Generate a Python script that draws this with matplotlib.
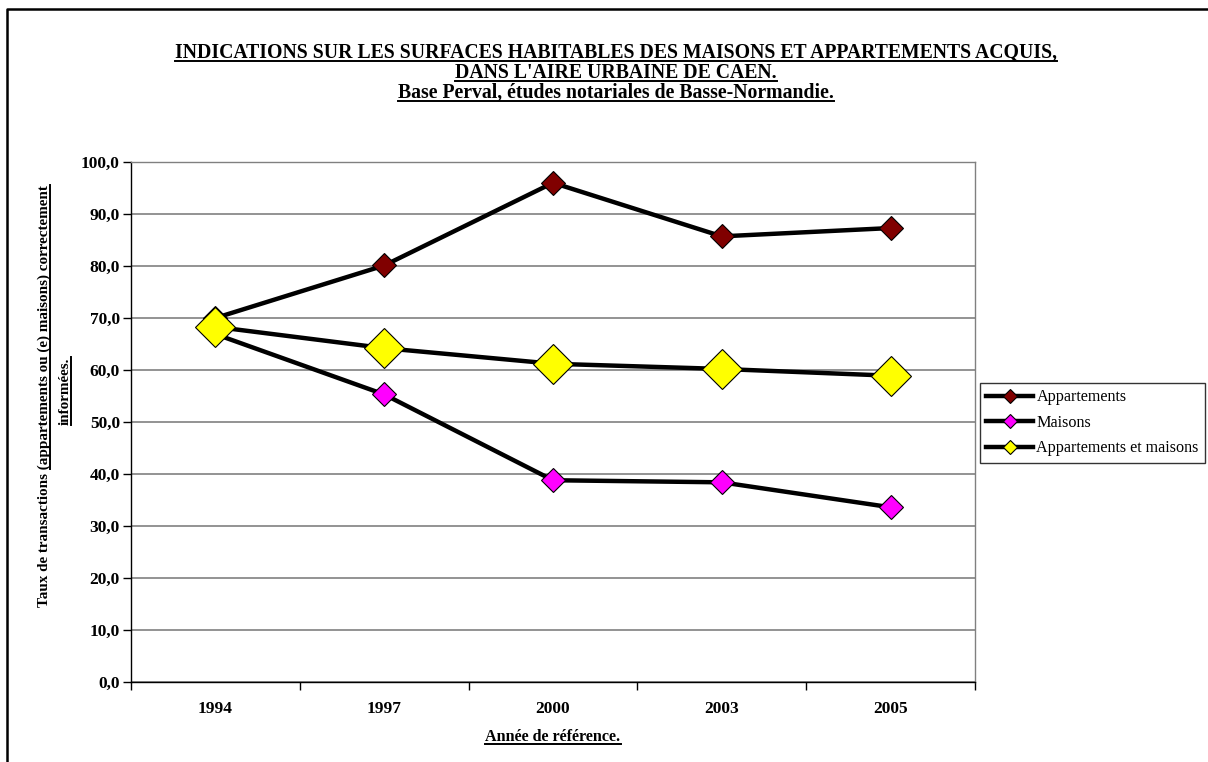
import matplotlib
matplotlib.use("Agg")
import matplotlib.pyplot as plt
from matplotlib.lines import Line2D
from matplotlib.ticker import FixedLocator, FuncFormatter

years = ["1994", "1997", "2000", "2003", "2005"]
appartements = [70.0, 80.1, 96.0, 85.7, 87.3]
maisons = [66.9, 55.3, 38.8, 38.4, 33.6]
app_et_maisons = [68.3, 64.2, 61.2, 60.2, 58.9]
series_names = ["Appartements", "Maisons", "Appartements et maisons"]
title_lines = ["INDICATIONS SUR LES SURFACES HABITABLES DES MAISONS ET APPARTEMENTS ACQUIS,",
               "DANS L'AIRE URBAINE DE CAEN.",
               "Base Perval, études notariales de Basse-Normandie."]
ylabel_line1 = "Taux de transactions (appartements ou (e) maisons) correctement"
ylabel_prefix = "Taux de transactions "
ylabel_line2 = "informées."
xlabel = "Année de référence."

W, H = 1208, 762
plt.rcParams['font.family'] = ['Liberation Serif', 'DejaVu Serif']
fig = plt.figure(figsize=(W / 100, H / 100), dpi=100)

def px(x0, y0):
    return x0 / W, 1 - y0 / H

ax = fig.add_axes([131 / W, 1 - 682 / H, (975 - 131) / W, (682 - 162) / H])
x = list(range(len(years)))
ax.plot(x, appartements, color='black', lw=3.2, marker='D', ms=12,
        mfc='#800000', mec='black', mew=0.8, label=series_names[0], zorder=3)
ax.plot(x, maisons, color='black', lw=3.2, marker='D', ms=12,
        mfc='#FF00FF', mec='black', mew=0.8, label=series_names[1], zorder=3)
ax.plot(x, app_et_maisons, color='black', lw=3.2, marker='D', ms=20,
        mfc='#FFFF00', mec='black', mew=0.8, label=series_names[2], zorder=4)

ax.set_xlim(-0.5, len(years) - 0.5)
ax.set_ylim(0, 100)
ax.set_yticks([i * 10 for i in range(11)])
ax.yaxis.set_major_formatter(FuncFormatter(lambda v, p: f"{v:.1f}".replace('.', ',')))
ax.xaxis.set_major_locator(FixedLocator([i - 0.5 for i in range(len(years) + 1)]))
ax.xaxis.set_minor_locator(FixedLocator(x))
ax.xaxis.set_major_formatter(FuncFormatter(lambda v, p: ""))
ax.xaxis.set_minor_formatter(FuncFormatter(lambda v, p: years[int(round(v))]))
ax.tick_params(axis='x', which='major', direction='out', length=6, width=1, color='black')
ax.tick_params(axis='x', which='minor', length=0, pad=14, labelsize=12.5)
ax.tick_params(axis='y', direction='out', length=6, width=1, labelsize=12.5, pad=2)
for lab in ax.get_xticklabels(minor=True) + ax.get_yticklabels():
    lab.set_fontweight('bold')
ax.grid(axis='y', color='#808080', lw=1.2)
ax.set_axisbelow(True)
ax.spines['left'].set_color('black')
ax.spines['bottom'].set_color('black')
ax.spines['right'].set_color('#808080')
ax.spines['top'].set_color('#808080')
for s in ax.spines.values():
    s.set_linewidth(1)

leg = fig.legend(handles=ax.get_lines(), labels=series_names,
                 loc='upper left', bbox_to_anchor=px(980, 383),
                 frameon=True, fancybox=False, edgecolor='black',
                 prop={'size': 11.6}, handlelength=2.9, handletextpad=0.2,
                 borderpad=0.4, labelspacing=0.59, borderaxespad=0)
leg.get_frame().set_linewidth(1)
for h in leg.legend_handles:
    h.set_markersize(7)
    h.set_linewidth(3.2)

htexts = []
for t, yy in zip(title_lines, [58, 78, 98]):
    htexts.append(fig.text(*px(616, yy), t, ha='center', va='baseline',
                           fontsize=14.2, fontweight='bold'))
htexts.append(fig.text(*px(553, 741), xlabel, ha='center', va='baseline',
                       fontsize=11.6, fontweight='bold'))
yl1 = fig.text(*px(47.5, 396), ylabel_line1, ha='center', va='baseline', rotation=90,
               rotation_mode='anchor', fontsize=10.9, fontweight='bold')
yl2 = fig.text(*px(68.5, 391), ylabel_line2, ha='center', va='baseline', rotation=90,
               rotation_mode='anchor', fontsize=10.9, fontweight='bold')
ypre = fig.text(0, 0, ylabel_prefix, fontsize=10.9, fontweight='bold', alpha=0)

# frame
fig.add_artist(Line2D([7.5 / W, 7.5 / W, 1.0], [0, 1 - 9 / H, 1 - 9 / H],
                      color='black', lw=1.8, transform=fig.transFigure))

fig.canvas.draw()
r = fig.canvas.get_renderer()
def uline(x0, y0, x1, y1, lw=1.4):
    fig.add_artist(Line2D([x0 / W, x1 / W], [y0 / H, y1 / H], color='black', lw=lw,
                          transform=fig.transFigure))
for tt in htexts:
    bb = tt.get_window_extent(r)
    yb = tt.get_position()[1] * H - 2.8
    uline(bb.x0, yb, bb.x1, yb)
bb1 = yl1.get_window_extent(r)
pw = ypre.get_window_extent(r).width
xb1 = yl1.get_position()[0] * W + 2.5
uline(xb1, bb1.y0 + pw, xb1, bb1.y1)
bb2 = yl2.get_window_extent(r)
xb2 = yl2.get_position()[0] * W + 2.5
uline(xb2, bb2.y0, xb2, bb2.y1)

fig.savefig("out.png", dpi=100)
